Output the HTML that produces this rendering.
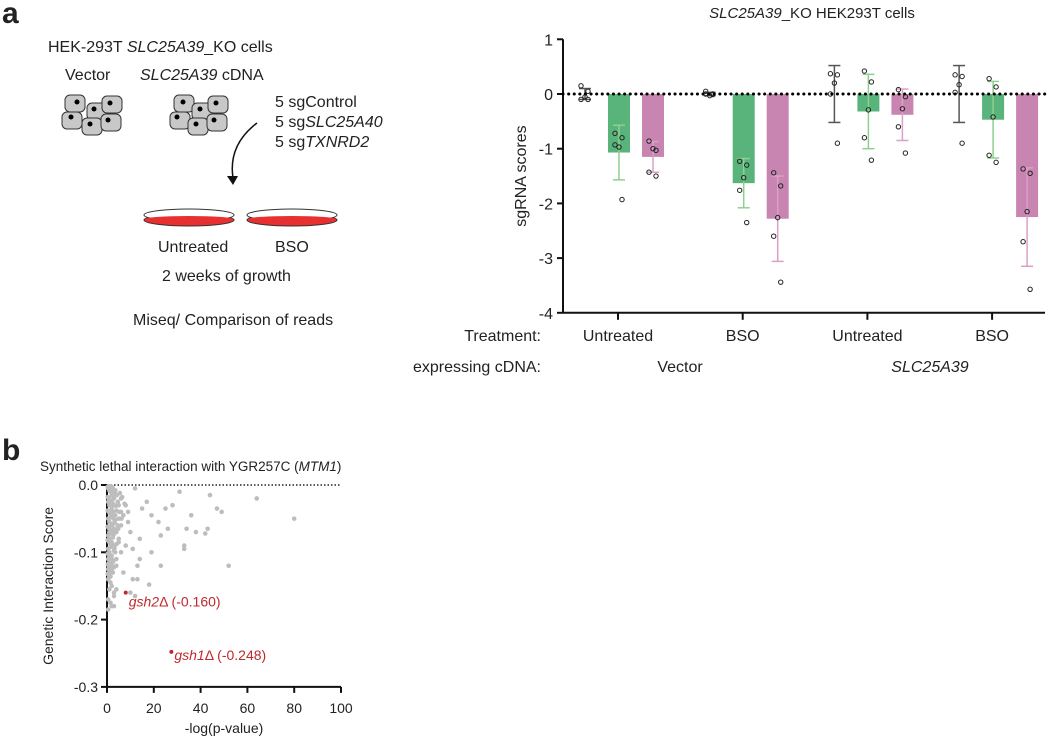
<!DOCTYPE html>
<html><head><meta charset="utf-8"><style>
body{margin:0;background:#fff;}
svg text{font-family:"Liberation Sans",Arial,sans-serif;fill:#222;}
</style></head><body>
<svg width="1050" height="740" viewBox="0 0 1050 740">
<g>
<text x="2" y="23" font-size="30" font-weight="bold">a</text>
<text x="48" y="52" font-size="16">HEK-293T <tspan font-style="italic">SLC25A39</tspan>_KO cells</text>
<text x="65" y="80" font-size="16">Vector</text>
<text x="140" y="80" font-size="16"><tspan font-style="italic">SLC25A39</tspan> cDNA</text>
<g fill="#c8c8c8" stroke="#333" stroke-width="1">
<rect x="65" y="95" width="20" height="17" rx="5"/><rect x="87" y="103" width="20" height="17" rx="5"/><rect x="102" y="96" width="20" height="17" rx="5"/>
<rect x="62" y="112" width="20" height="17" rx="5"/><rect x="82" y="118" width="20" height="17" rx="5"/><rect x="101" y="114" width="20" height="17" rx="5"/>
</g>
<g fill="#000"><circle cx="77" cy="102" r="2.5"/><circle cx="94" cy="109" r="2.5"/><circle cx="110" cy="103" r="2.5"/><circle cx="71" cy="117" r="2.5"/><circle cx="90" cy="124" r="2.5"/><circle cx="108" cy="120" r="2.5"/></g>
<g fill="#c8c8c8" stroke="#333" stroke-width="1">
<rect x="174" y="95" width="20" height="17" rx="5"/><rect x="192" y="103" width="20" height="17" rx="5"/><rect x="208" y="96" width="20" height="17" rx="5"/>
<rect x="170" y="112" width="20" height="17" rx="5"/><rect x="188" y="118" width="20" height="17" rx="5"/><rect x="207" y="114" width="20" height="17" rx="5"/>
</g>
<g fill="#000"><circle cx="183" cy="102" r="2.5"/><circle cx="200" cy="109" r="2.5"/><circle cx="216" cy="103" r="2.5"/><circle cx="177" cy="117" r="2.5"/><circle cx="196" cy="124" r="2.5"/><circle cx="214" cy="120" r="2.5"/></g>
<text x="275" y="107" font-size="16">5 sgControl</text>
<text x="275" y="127" font-size="16">5 sg<tspan font-style="italic">SLC25A40</tspan></text>
<text x="275" y="147" font-size="16">5 sg<tspan font-style="italic">TXNRD2</tspan></text>
<path d="M257,123 Q228,145 233,178" fill="none" stroke="#111" stroke-width="1.5"/>
<path d="M227,176 L233,185 L238,176 Z" fill="#111"/>
<g><ellipse cx="189" cy="220" rx="45" ry="6" fill="#e83030" stroke="#333"/><ellipse cx="189" cy="215" rx="45" ry="6" fill="#fff" stroke="#333"/><ellipse cx="189" cy="219" rx="44" ry="3" fill="#e83030"/></g>
<g><ellipse cx="292" cy="220" rx="45" ry="6" fill="#e83030" stroke="#333"/><ellipse cx="292" cy="215" rx="45" ry="6" fill="#fff" stroke="#333"/><ellipse cx="292" cy="219" rx="44" ry="3" fill="#e83030"/></g>
<text x="158" y="252" font-size="16">Untreated</text>
<text x="275" y="252" font-size="16">BSO</text>
<text x="162" y="281" font-size="16">2 weeks of growth</text>
<text x="133" y="325" font-size="16">Miseq/ Comparison of reads</text>
</g>
<g id="bar"></g>
<g id="sc"></g>
</svg>
<script>
const groups=["Untreated","BSO","Untreated","BSO"];
const meansGray=[0,0,0,0];
const meansGreen=[-1.07,-1.63,-0.32,-0.47];
const meansPink=[-1.15,-2.28,-0.38,-2.25];
const sdGray=[0.1,0.03,0.52,0.52];
const sdGreen=[0.5,0.45,0.68,0.7];
const sdPink=[0.28,0.78,0.47,0.9];
const ptsGray=[[0.15,0.05,-0.05,-0.1,-0.1],[0.05,0,-0.03,0,-0.01],[0.37,0.35,0.2,0,-0.9],[0.35,0.32,0.17,0.03,-0.9]];
const ptsGreen=[[-0.72,-0.8,-0.97,-0.93,-1.93],[-1.23,-1.3,-1.53,-1.76,-2.35],[0.42,0.22,-0.29,-0.8,-1.21],[0.28,0.13,-0.42,-1.12,-1.25]];
const ptsPink=[[-0.86,-1.03,-1.0,-1.43,-1.5],[-1.44,-1.68,-2.26,-2.6,-3.44],[0.08,-0.05,-0.27,-0.6,-1.08],[-1.37,-1.45,-2.15,-2.7,-3.57]];
const yTicks=[1,0,-1,-2,-3,-4];
const NS="http://www.w3.org/2000/svg";
function mk(p,t,a){const e=document.createElementNS(NS,t);for(const k in a)e.setAttribute(k,a[k]);p.appendChild(e);return e;}
const bar=document.getElementById('bar');
const X0=563,X1=1045,Y0v=94,U=54.7;
const by=v=>Y0v-v*U;
const gx=i=>618+i*124.7;
let e;
e=mk(bar,'text',{x:812,y:18,'font-size':15,'text-anchor':'middle'});


e.innerHTML='<tspan font-style="italic">SLC25A39</tspan>_KO HEK293T cells';
e=mk(bar,'line',{x1:X0,y1:by(1),x2:X0,y2:by(-4),stroke:'#111','stroke-width':2});


e=mk(bar,'line',{x1:X0,y1:by(-4),x2:X1,y2:by(-4),stroke:'#111','stroke-width':2});


yTicks.forEach(t=>{mk(bar,'line',{x1:X0-6,y1:by(t),x2:X0,y2:by(t),stroke:'#111','stroke-width':2});
e=mk(bar,'text',{x:X0-10,y:by(t)+6,'font-size':16,'text-anchor':'end'});e.textContent=t;

});
e=mk(bar,'text',{x:0,y:0,'font-size':16,'text-anchor':'middle',transform:`translate(${X0-37},${by(-1.5)}) rotate(-90)`});e.textContent='sgRNA scores';


const series=[[meansGray,sdGray,ptsGray,'#555','none',-33],[meansGreen,sdGreen,ptsGreen,'#8fcf8f','#58b47a',1],[meansPink,sdPink,ptsPink,'#dba0c8','#c985b1',35]];
series.forEach((s,si)=>{groups.forEach((g,i)=>{const cx=gx(i)+s[5],m=s[0][i],sd=s[1][i];
 if(s[4]!=='none'){e=mk(bar,'rect',{x:cx-11,y:by(0),width:22,height:by(m)-by(0),fill:s[4]});
 
 }
 const lo=by(m-sd),hi=by(m+sd);
 e=mk(bar,'line',{x1:cx,y1:hi,x2:cx,y2:lo,stroke:s[3],'stroke-width':1.5});
 
 
 mk(bar,'line',{x1:cx-6,y1:hi,x2:cx+6,y2:hi,stroke:s[3],'stroke-width':1.5});
 mk(bar,'line',{x1:cx-6,y1:lo,x2:cx+6,y2:lo,stroke:s[3],'stroke-width':1.5});
 s[2][i].forEach((v,k)=>{const off=[-4,3,0,-4,3][k];
  e=mk(bar,'circle',{cx:cx+off,cy:by(v),r:2.2,fill:'none',stroke:'#222','stroke-width':1});
  
  });
});});
e=mk(bar,'line',{x1:X0,y1:by(0),x2:X1,y2:by(0),stroke:'#000','stroke-width':3,'stroke-dasharray':'0.1 5.5','stroke-linecap':'round'});


groups.forEach((g,i)=>{mk(bar,'line',{x1:gx(i),y1:by(-4),x2:gx(i),y2:by(-4)+7,stroke:'#111','stroke-width':2});
 e=mk(bar,'text',{x:gx(i),y:341,'font-size':16,'text-anchor':'middle'});e.textContent=g;
 
 });
e=mk(bar,'text',{x:541,y:341,'font-size':16,'text-anchor':'end'});e.textContent='Treatment:';


e=mk(bar,'text',{x:541,y:372,'font-size':16,'text-anchor':'end'});e.textContent='expressing cDNA:';


e=mk(bar,'text',{x:680,y:372,'font-size':16,'text-anchor':'middle'});e.textContent='Vector';


e=mk(bar,'text',{x:930,y:372,'font-size':16,'text-anchor':'middle','font-style':'italic'});e.textContent='SLC25A39';



/* scatter */
const scX=[0.5,1,1.5,2,2.5,3,0.5,1,1.5,2,2.5,3,3.5,4,0.5,1,1.5,2,2.5,3,3.5,4,4.5,0.5,1,1.5,2,2.5,3,3.5,5,0.5,1,1.5,2,3,4,6,0.5,1,1.5,2,2.5,3.5,5,0.5,1,1.5,2,3,4,0.5,1,1.5,2,3,0.5,1,2,3,0.5,1.5,2.5,4,1,2,3,5,6,7,8,6,9,10,12,14,15,17,19,22,23,25,26,28,31,33,34,36,38,42,43,44,47,49,52,64,80,14,11,13,18,23,13,19,33,10,12,7,8,4,3,1,2,9,11,5,6,
0.3,0.8,1.2,1.8,2.2,2.8,3.3,4.2,0.3,0.8,1.2,1.8,2.2,2.8,3.8,0.3,0.8,1.2,1.8,2.2,2.8,3.3,0.3,0.8,1.2,1.8,2.2,2.8,0.3,0.8,1.2,1.8,2.2,3.2,0.3,0.8,1.2,1.8,2.6,0.3,0.8,1.3,2.2,0.3,0.8,1.5,0.6,1.1,1.7,2.4,3.6,4.6,5.5,6.5,7.5,5.2,4.8,6.2];
const scY=[-0.005,-0.008,-0.01,-0.012,-0.015,-0.02,-0.025,-0.03,-0.028,-0.035,-0.04,-0.03,-0.045,-0.038,-0.05,-0.055,-0.048,-0.06,-0.058,-0.065,-0.052,-0.07,-0.06,-0.075,-0.08,-0.072,-0.085,-0.078,-0.09,-0.068,-0.05,-0.095,-0.1,-0.092,-0.105,-0.098,-0.088,-0.04,-0.11,-0.115,-0.108,-0.12,-0.112,-0.1,-0.08,-0.125,-0.13,-0.118,-0.128,-0.122,-0.11,-0.14,-0.135,-0.145,-0.15,-0.16,-0.17,-0.155,-0.18,-0.165,-0.185,-0.175,-0.13,-0.12,-0.02,-0.015,-0.01,-0.03,-0.02,-0.045,-0.03,-0.06,-0.055,-0.07,-0.005,-0.08,-0.035,-0.025,-0.045,-0.055,-0.075,-0.035,-0.065,-0.03,-0.01,-0.095,-0.065,-0.045,-0.07,-0.072,-0.065,-0.015,-0.035,-0.04,-0.12,-0.02,-0.05,-0.11,-0.14,-0.14,-0.148,-0.12,-0.12,-0.1,-0.09,-0.16,-0.165,-0.13,-0.09,-0.155,-0.18,-0.07,-0.06,-0.04,-0.095,-0.085,-0.1,
-0.003,-0.004,-0.006,-0.007,-0.009,-0.011,-0.013,-0.015,-0.018,-0.02,-0.022,-0.024,-0.026,-0.029,-0.031,-0.038,-0.04,-0.042,-0.044,-0.047,-0.05,-0.055,-0.062,-0.064,-0.066,-0.068,-0.07,-0.074,-0.082,-0.084,-0.086,-0.088,-0.092,-0.094,-0.102,-0.104,-0.106,-0.108,-0.114,-0.118,-0.12,-0.122,-0.124,-0.132,-0.134,-0.136,-0.002,-0.002,-0.002,-0.004,-0.008,-0.025,-0.012,-0.018,-0.028,-0.04,-0.065,-0.05];
const hiX=[8,27.5],hiY=[-0.160,-0.248];
const hiLabel=['gsh2','gsh1'];
const sc=document.getElementById('sc');
const sx=v=>107+v*2.34;
const syy=v=>485+(-v)*673;
e=mk(sc,'text',{x:2,y:460,'font-size':30,'font-weight':'bold'});e.textContent='b';


e=mk(sc,'text',{x:40,y:471,'font-size':13.5});e.innerHTML='Synthetic lethal interaction with YGR257C (<tspan font-style="italic">MTM1</tspan>)';


e=mk(sc,'line',{x1:sx(0),y1:syy(0),x2:sx(100),y2:syy(0),stroke:'#222','stroke-width':1.5,'stroke-dasharray':'1.5 2'});


e=mk(sc,'line',{x1:sx(0),y1:syy(0),x2:sx(0),y2:syy(-0.3),stroke:'#111','stroke-width':2});


e=mk(sc,'line',{x1:sx(0),y1:syy(-0.3),x2:sx(100),y2:syy(-0.3),stroke:'#111','stroke-width':2});


const yT=[0,-0.1,-0.2,-0.3],yTL=['0.0','-0.1','-0.2','-0.3'],xT=[0,20,40,60,80,100];
yT.forEach((t,i)=>{mk(sc,'line',{x1:sx(0)-6,y1:syy(t),x2:sx(0),y2:syy(t),stroke:'#111','stroke-width':2});
 e=mk(sc,'text',{x:sx(0)-9,y:syy(t)+5,'font-size':14,'text-anchor':'end'});e.textContent=yTL[i];
 
 });
xT.forEach(t=>{mk(sc,'line',{x1:sx(t),y1:syy(-0.3),x2:sx(t),y2:syy(-0.3)+6,stroke:'#111','stroke-width':2});
 e=mk(sc,'text',{x:sx(t),y:713,'font-size':14,'text-anchor':'middle'});e.textContent=t;
 
 });
e=mk(sc,'text',{x:sx(50),y:733,'font-size':14,'text-anchor':'middle'});e.textContent='-log(p-value)';


e=mk(sc,'text',{x:0,y:0,'font-size':14,'text-anchor':'middle',transform:`translate(53,${syy(-0.15)}) rotate(-90)`});e.textContent='Genetic Interaction Score';


scX.forEach((x,i)=>{e=mk(sc,'circle',{cx:sx(x),cy:syy(scY[i]),r:2.3,fill:'#bdbdbd'});
 
 });
hiX.forEach((x,i)=>{e=mk(sc,'circle',{cx:sx(x),cy:syy(hiY[i]),r:2,fill:'#c0282d'});
 
 
 e=mk(sc,'text',{x:sx(x)+3,y:syy(hiY[i])+14-i*6,'font-size':14,fill:'#c0282d'});
 e.innerHTML=`<tspan font-style="italic" fill="#c0282d">${hiLabel[i]}</tspan><tspan fill="#c0282d">Δ (${hiY[i].toFixed(3)})</tspan>`;
 
 });
</script>
</body></html>
